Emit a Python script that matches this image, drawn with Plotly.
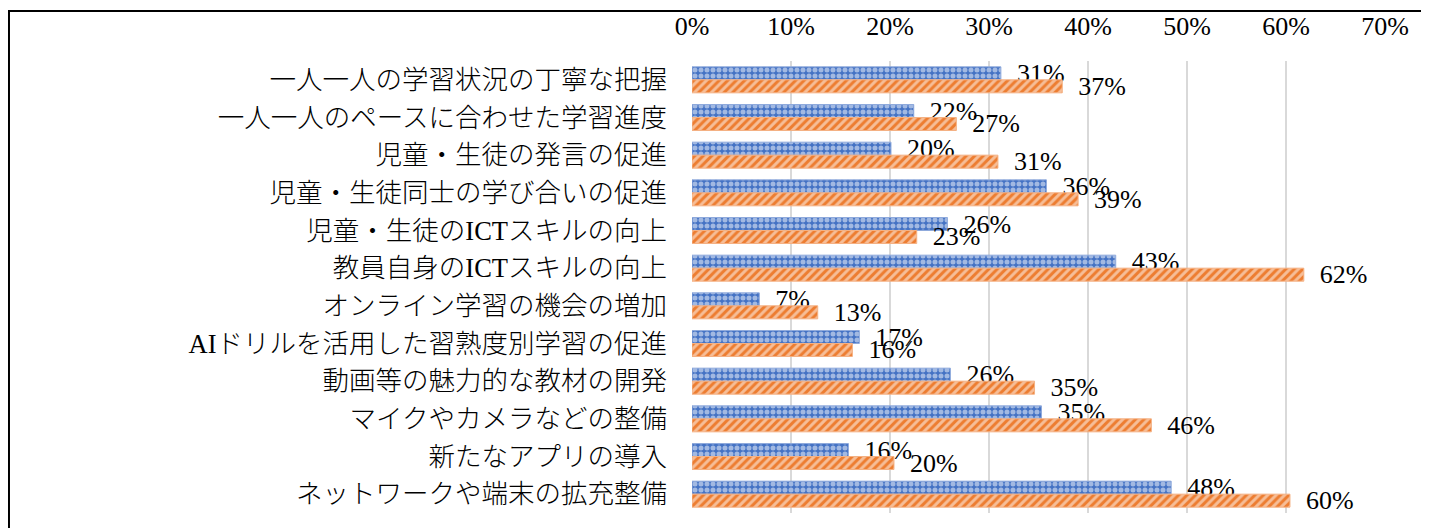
import plotly.graph_objects as go

categories = [
    "一人一人の学習状況の丁寧な把握",
    "一人一人のペースに合わせた学習進度",
    "児童・生徒の発言の促進",
    "児童・生徒同士の学び合いの促進",
    "児童・生徒のICTスキルの向上",
    "教員自身のICTスキルの向上",
    "オンライン学習の機会の増加",
    "AIドリルを活用した習熟度別学習の促進",
    "動画等の魅力的な教材の開発",
    "マイクやカメラなどの整備",
    "新たなアプリの導入",
    "ネットワークや端末の拡充整備",
]
series_a = [0.312, 0.224, 0.201, 0.358, 0.258, 0.428, 0.068, 0.169, 0.261, 0.353, 0.158, 0.484]
series_b = [0.374, 0.267, 0.309, 0.390, 0.227, 0.618, 0.127, 0.162, 0.346, 0.464, 0.204, 0.604]
x_ticks = [0, 0.1, 0.2, 0.3, 0.4, 0.5, 0.6, 0.7]

FONT = "Liberation Serif, Noto Sans CJK JP, serif"
NB = "\u00a0\u00a0"

fig = go.Figure()
fig.add_trace(go.Bar(
    y=categories, x=series_a, orientation="h", name="A",
    marker=dict(color="#4472C4", line=dict(color="#8FAADC", width=1),
                pattern=dict(shape=".", bgcolor="#4472C4", fgcolor="white", size=6, solidity=0.55)),
    texttemplate=NB + "%{x:.0%}", textposition="outside", constraintext="none",
    cliponaxis=False, textfont=dict(family=FONT, size=26, color="black"),
))
fig.add_trace(go.Bar(
    y=categories, x=series_b, orientation="h", name="B",
    marker=dict(color="#ED7D31", line=dict(color="#F4B183", width=1),
                pattern=dict(shape="/", bgcolor="#ED7D31", fgcolor="white", size=6, solidity=0.5)),
    texttemplate=NB + "%{x:.0%}", textposition="outside", constraintext="none",
    cliponaxis=False, textfont=dict(family=FONT, size=26, color="black"),
))

fig.update_layout(
    width=1421, height=520,
    margin=dict(l=684, r=44, t=53, b=15),
    paper_bgcolor="white", plot_bgcolor="white",
    barmode="group", bargap=0.31, bargroupgap=0,
    showlegend=False,
    font=dict(family=FONT, size=24, color="black"),
    xaxis=dict(side="top", range=[0, 0.7], tickvals=x_ticks, tickformat=".0%",
               showgrid=True, gridcolor="#D9D9D9", gridwidth=2, zeroline=False,
               showline=False, ticks="", ticklabelstandoff=20, automargin=False,
               tickfont=dict(family=FONT, size=26, color="black")),
    yaxis=dict(autorange="reversed", showgrid=False, zeroline=False, showline=False,
               ticks="", ticklabelstandoff=24, automargin=False,
               tickfont=dict(family=FONT, size=26.5, color="black", weight=300)),
)

# chart frame (extends beyond the right and bottom edges of the view)
fig.add_shape(type="rect", xref="paper", yref="paper",
              x0=-0.9856, x1=1.07, y0=-0.08, y1=1.1105,
              line=dict(color="black", width=2), fillcolor="rgba(0,0,0,0)", layer="above")

fig.write_html("out.html")
